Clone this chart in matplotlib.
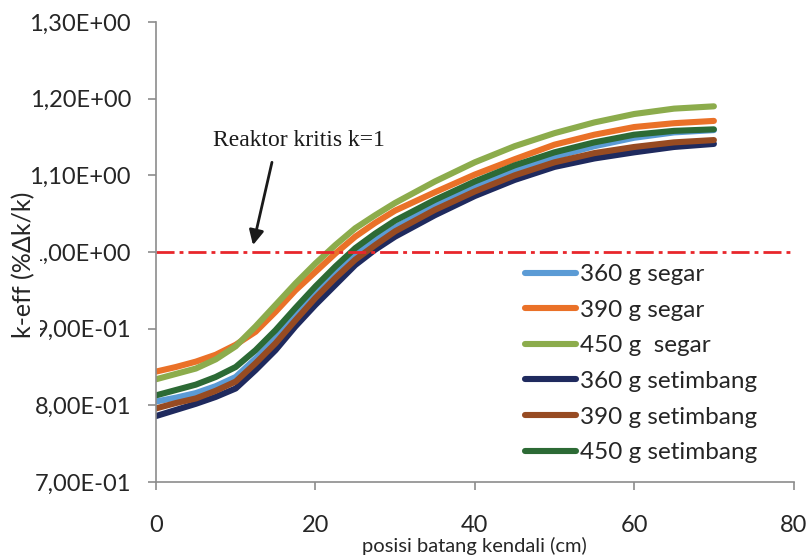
import numpy as np
import matplotlib
matplotlib.use("Agg")
import matplotlib.pyplot as plt
from matplotlib.ticker import FuncFormatter, MultipleLocator

plt.rcParams['font.family'] = ['Lato', 'DejaVu Sans']

# Data
posisi = [0, 2.5, 5, 7.5, 10, 12.5, 15, 17.5, 20, 22.5, 25, 27.5, 30,
          35, 40, 45, 50, 55, 60, 65, 70]
k_360_segar = [0.805, 0.810, 0.816, 0.825, 0.837, 0.861, 0.887, 0.918, 0.946, 0.972, 0.996,
               1.016, 1.032, 1.061, 1.086, 1.107, 1.124, 1.138, 1.149, 1.156, 1.159]
k_390_segar = [0.844, 0.850, 0.857, 0.866, 0.879, 0.896, 0.922, 0.950, 0.974, 0.998, 1.020,
               1.038, 1.054, 1.078, 1.101, 1.121, 1.140, 1.153, 1.163, 1.168, 1.171]
k_450_segar = [0.834, 0.841, 0.848, 0.860, 0.877, 0.903, 0.931, 0.959, 0.985, 1.009, 1.031,
               1.048, 1.064, 1.092, 1.117, 1.138, 1.155, 1.169, 1.180, 1.187, 1.190]
k_360_setimbang = [0.786, 0.794, 0.802, 0.811, 0.822, 0.846, 0.872, 0.903, 0.931, 0.957, 0.983,
                   1.003, 1.020, 1.048, 1.073, 1.094, 1.111, 1.122, 1.130, 1.137, 1.141]
k_390_setimbang = [0.796, 0.803, 0.809, 0.819, 0.831, 0.855, 0.881, 0.911, 0.940, 0.966, 0.990,
                   1.009, 1.027, 1.055, 1.079, 1.100, 1.117, 1.129, 1.137, 1.143, 1.146]
k_450_setimbang = [0.813, 0.820, 0.827, 0.837, 0.850, 0.872, 0.898, 0.927, 0.955, 0.981, 1.005,
                   1.024, 1.041, 1.068, 1.092, 1.113, 1.130, 1.143, 1.153, 1.158, 1.160]

labels = ["360 g segar", "390 g segar", "450 g  segar",
          "360 g setimbang", "390 g setimbang", "450 g setimbang"]
series = [k_360_segar, k_390_segar, k_450_segar,
          k_360_setimbang, k_390_setimbang, k_450_setimbang]
warna = ["#5b9bd5", "#ea7128", "#8cac4c", "#1f2a5e", "#974b22", "#2c6a35"]

k_kritis = 1.0

fig = plt.figure(figsize=(8.1, 5.6), dpi=100)
ax = fig.add_axes([156/810, 1 - 482/560, 637.6/810, 460/560])

for y, lab, c in zip(series, labels, warna):
    ax.plot(posisi, y, color=c, lw=4.4, label=lab,
            solid_capstyle='round', solid_joinstyle='round')

ax.axhline(k_kritis, color="#e8262b", lw=2, linestyle=(0, (6.5, 1.8, 1.4, 1.8)))

ax.text(17.9, 1.146, "Reaktor kritis k=1", family="Liberation Serif",
        fontsize=17, ha="center", va="center", color="#1a1a1a")
ax.annotate("", xy=(12.17, 1.009), xytext=(14.55, 1.117),
            arrowprops=dict(arrowstyle="-|>", color="#1a1a1a", lw=2,
                            mutation_scale=22, shrinkA=0, shrinkB=0))

ax.set_xlim(0, 80)
ax.set_ylim(0.7, 1.3)
ax.xaxis.set_major_locator(MultipleLocator(20))
ax.yaxis.set_major_locator(MultipleLocator(0.1))
ax.yaxis.set_major_formatter(FuncFormatter(lambda v, p: f"{v:.2E}".replace(".", ",")))

for s in ["top", "right"]:
    ax.spines[s].set_visible(False)
for s in ["left", "bottom"]:
    ax.spines[s].set_color("#8c8c8c")
    ax.spines[s].set_linewidth(1.2)

ax.tick_params(axis="both", colors="#8c8c8c", length=6, width=1.2,
               labelsize=17, labelcolor="#262626")
ax.tick_params(axis="y", pad=12)
ax.tick_params(axis="x", pad=18)

ax.set_xlabel("posisi batang kendali (cm)", fontsize=14.5, color="#262626")
ax.xaxis.set_label_coords(0.5, -0.12)
ax.set_ylabel("k-eff (%\u0394k/k)", fontsize=18, color="#262626",
              bbox=dict(boxstyle="square,pad=0.2", fc="white", ec="none"))
ax.yaxis.set_label_coords(-0.19, 0.472)

ax.legend(loc="upper left", bbox_to_anchor=(513/810, 1 - 252/560),
          bbox_transform=fig.transFigure, frameon=False, fontsize=17.5,
          handlelength=2.1, handletextpad=0.15, labelspacing=0.6,
          borderpad=0, labelcolor="#262626")

fig.savefig("out.png", dpi=100)
